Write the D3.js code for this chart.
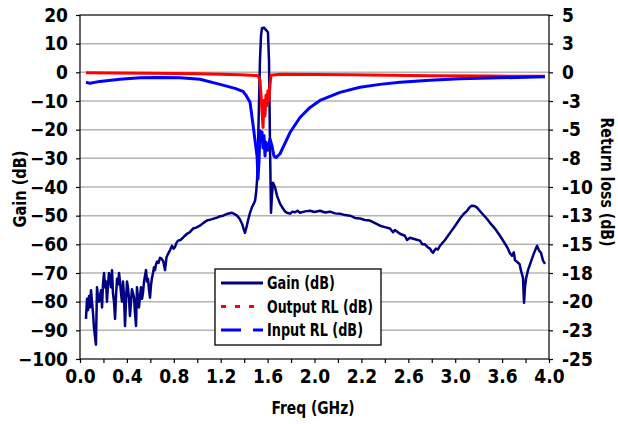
<!DOCTYPE html>
<html>
<head>
<meta charset="utf-8">
<script src="https://cdn.jsdelivr.net/npm/d3@7"></script>
<style>
  html, body { margin: 0; padding: 0; background: #fff; }
  svg text { font-family: "Liberation Sans Narrow", "DejaVu Sans Condensed", "Arial Narrow", sans-serif; font-weight: bold; fill: #000; }
</style>
</head>
<body>
<svg id="chart" width="618" height="424"></svg>
<script>
// ---------- DATA ----------
const gainLeftTicks = [20, 10, 0, -10, -20, -30, -40, -50, -60, -70, -80, -90, -100];
const rlRightTicks = [5, 2.5, 0, -2.5, -5, -7.5, -10, -12.5, -15, -17.5, -20, -22.5, -25];
const rlRightLabels = ["5", "3", "0", "-3", "-5", "-8", "-10", "-13", "-15", "-18", "-20", "-23", "-25"];
const freqTicks = [0,0.2,0.4,0.6,0.8,1.0,1.2,1.4,1.6,1.8,2.0,2.2,2.4,2.6,2.8,3.0,3.2,3.4,3.6,3.8,4.0];
const freqLabels = ["0.0","0.4","0.8","1.2","1.6","2.0","2.2","2.6","3.0","3.6","4.0"];
const seriesNames = ["Gain (dB)", "Output RL (dB)", "Input RL (dB)"];

// Gain (dB), left axis: [freq GHz, dB]
const gainData = [
[0.051,-86],[0.060,-79],[0.068,-83],[0.077,-78],[0.085,-82],[0.094,-76],[0.102,-80],[0.111,-84],[0.119,-89],[0.136,-95],
[0.145,-75],[0.153,-78],[0.162,-80],[0.170,-78],[0.179,-76],[0.188,-82],[0.196,-74],[0.205,-70],[0.213,-75],[0.222,-73],
[0.230,-80],[0.239,-74],[0.247,-70],[0.256,-72],[0.264,-75],[0.273,-69],[0.281,-77],[0.290,-80],[0.299,-86],[0.307,-78],
[0.316,-72],[0.324,-74],[0.333,-70],[0.341,-73],[0.350,-77],[0.358,-80],[0.367,-73],[0.375,-78],[0.384,-88.5],[0.392,-80],
[0.401,-73],[0.409,-75],[0.418,-79],[0.426,-85],[0.435,-80],[0.443,-75.7],[0.452,-77],[0.461,-78.6],[0.469,-84],[0.478,-88.5],
[0.486,-75],[0.495,-79],[0.503,-82],[0.512,-78],[0.520,-75],[0.529,-79],[0.537,-77],[0.546,-73],[0.554,-71],[0.563,-69],
[0.571,-73],[0.580,-72],[0.589,-76],[0.597,-78.6],[0.606,-74],[0.614,-71.7],[0.623,-70],[0.631,-68],[0.640,-69],[0.648,-67],
[0.657,-66],[0.670,-66.5],[0.682,-64.7],[0.695,-65],[0.708,-65.7],[0.716,-67],[0.725,-69],[0.738,-64.5],[0.751,-63.3],[0.768,-62],
[0.785,-60.5],[0.798,-61.5],[0.810,-61],[0.823,-59.5],[0.836,-58.7],[0.857,-58.5],[0.878,-57.7],[0.895,-57],[0.913,-56.3],[0.935,-55.8],
[0.964,-54.5],[0.990,-54.2],[1.023,-53.5],[1.050,-52.6],[1.083,-51.7],[1.120,-51.3],[1.168,-50.7],[1.195,-50.2],[1.220,-50],[1.260,-49.3],
[1.296,-49],[1.320,-49.5],[1.339,-50],[1.360,-51],[1.382,-52.8],[1.398,-55],[1.407,-56],[1.420,-54],[1.433,-51.7],[1.450,-49],
[1.467,-47],[1.480,-46],[1.493,-44.8],[1.502,-42],[1.510,-37.8],[1.518,-27],[1.527,-9.8],[1.535,4.2],[1.544,12.9],[1.552,15.4],
[1.569,15.6],[1.586,14.8],[1.603,14],[1.612,4.2],[1.620,-23.8],[1.629,-49],[1.637,-43],[1.646,-38.5],[1.663,-40],[1.680,-43],
[1.706,-45.8],[1.731,-47.5],[1.748,-48.5],[1.765,-49],[1.791,-49.3],[1.812,-48.6],[1.834,-48.8],[1.855,-48.3],[1.876,-49],[1.920,-48.5],
[1.962,-48.3],[2.000,-48.7],[2.047,-48.3],[2.090,-48.9],[2.132,-48.6],[2.175,-49.2],[2.217,-49.3],[2.260,-49.8],[2.303,-50],[2.345,-50.8],
[2.388,-51],[2.430,-51.5],[2.473,-51.7],[2.516,-52.6],[2.559,-53.5],[2.600,-54],[2.644,-54.5],[2.670,-55.8],[2.686,-55],[2.729,-56.3],
[2.770,-57],[2.790,-58.5],[2.814,-57.7],[2.857,-58.2],[2.900,-58.7],[2.920,-60],[2.942,-60],[2.965,-61],[2.985,-61.5],[3.000,-62.5],
[3.011,-63],[3.025,-62],[3.036,-61.5],[3.053,-61.8],[3.070,-60.5],[3.113,-58.5],[3.156,-56],[3.200,-53.5],[3.241,-51],[3.270,-49.5],
[3.301,-48.3],[3.325,-47],[3.343,-46.5],[3.365,-46.6],[3.386,-47.2],[3.420,-48.8],[3.454,-50.3],[3.497,-52.5],[3.539,-54.5],[3.582,-57],
[3.625,-59.8],[3.650,-61.5],[3.665,-63],[3.684,-64],[3.700,-62.8],[3.710,-65.5],[3.736,-66.4],[3.750,-67],[3.761,-69.2],[3.770,-70.5],
[3.778,-71.7],[3.787,-80.4],[3.795,-75],[3.804,-72],[3.821,-69],[3.838,-67],[3.855,-65],[3.868,-63.5],[3.881,-62.2],[3.898,-60.5],
[3.915,-62.2],[3.932,-63],[3.949,-65.7],[3.966,-66.8]
];

// Output RL (dB), right axis
const outputRL = [
[0.051,-0.04],[0.300,-0.06],[0.600,-0.08],[1.023,-0.13],[1.364,-0.22],[1.500,-0.28],[1.518,-0.3],[1.535,-0.7],[1.544,-2.0],[1.552,-3.3],
[1.561,-4.8],[1.569,-2.45],[1.578,-3.8],[1.586,-2.0],[1.595,-2.9],[1.603,-1.6],[1.612,-2.45],[1.620,-1.1],[1.629,-0.26],[1.706,-0.17],
[2.300,-0.22],[2.985,-0.3],[3.500,-0.33],[3.966,-0.35]
];

// Input RL (dB), right axis
const inputRL = [
[0.051,-0.87],[0.085,-0.96],[0.170,-0.79],[0.340,-0.61],[0.512,-0.48],[0.682,-0.44],[0.853,-0.48],[1.023,-0.61],[1.194,-1.05],[1.322,-1.4],
[1.390,-1.66],[1.416,-2.0],[1.450,-2.6],[1.476,-4.6],[1.510,-7.3],[1.518,-9.3],[1.527,-7.7],[1.535,-5.1],[1.544,-5.95],[1.552,-5.2],
[1.561,-6.6],[1.569,-5.5],[1.578,-7.3],[1.586,-6.1],[1.603,-6.8],[1.620,-5.8],[1.637,-6.4],[1.654,-7.3],[1.671,-7.44],[1.706,-7.1],
[1.748,-6.2],[1.791,-5.25],[1.876,-3.94],[1.962,-3.06],[2.047,-2.45],[2.217,-1.75],[2.388,-1.3],[2.559,-1.05],[2.729,-0.87],[2.985,-0.7],
[3.241,-0.57],[3.582,-0.48],[3.966,-0.39]
];

// ---------- CHART ----------
const svg = d3.select("#chart");
const L = 80, R = 549, T = 15, B = 359;

const x = d3.scaleLinear().domain([0, 4]).range([L, R]);
const yL = d3.scaleLinear().domain([-100, 20]).range([B, T]);
const yR = d3.scaleLinear().domain([-25, 5]).range([B, T]);

// gridlines
svg.append("g").selectAll("line").data(gainLeftTicks.filter(d => d !== 20 && d !== -100)).join("line")
  .attr("x1", L).attr("x2", R).attr("y1", d => yL(d)).attr("y2", d => yL(d))
  .attr("stroke", "#b4b4b4").attr("stroke-width", 1.5);

// frame
svg.append("rect").attr("x", L).attr("y", T).attr("width", R - L).attr("height", B - T)
  .attr("fill", "none").attr("stroke", "#000").attr("stroke-width", 1.2);

// axes
const axL = svg.append("g").attr("transform", `translate(${L},0)`)
  .call(d3.axisLeft(yL).tickValues(gainLeftTicks).tickSize(4).tickPadding(8).tickFormat(d3.format("d")));
const axR = svg.append("g").attr("transform", `translate(${R},0)`)
  .call(d3.axisRight(yR).tickValues(rlRightTicks).tickSize(4).tickPadding(9).tickFormat((d, i) => rlRightLabels[i]));
const axB = svg.append("g").attr("transform", `translate(0,${B})`)
  .call(d3.axisBottom(x).tickValues(freqTicks).tickSize(4).tickPadding(7)
    .tickFormat((d, i) => (i % 2 === 0 ? freqLabels[i / 2] : "")));
[axL, axR, axB].forEach(a => {
  a.select(".domain").remove();
  a.selectAll(".tick line").attr("stroke", "#000").attr("stroke-width", 1.2);
  a.selectAll("text").style("font-size", "19px").attr("fill", "#000");
});

// lines
const lineGain = d3.line().x(d => x(d[0])).y(d => yL(d[1]));
const lineRL = d3.line().x(d => x(d[0])).y(d => yR(d[1]));

svg.append("path").datum(gainData).attr("d", lineGain)
  .attr("fill", "none").attr("stroke", "#000080").attr("stroke-width", 2.5).attr("stroke-linejoin", "round");
svg.append("path").datum(outputRL).attr("d", lineRL)
  .attr("fill", "none").attr("stroke", "#ff0000").attr("stroke-width", 3).attr("stroke-linejoin", "round");
svg.append("path").datum(inputRL).attr("d", lineRL)
  .attr("fill", "none").attr("stroke", "#0000ff").attr("stroke-width", 3).attr("stroke-linejoin", "round");

// axis titles (condensed to the reference's narrow face)
function squeeze(sel, w) {
  sel.attr("textLength", w).attr("lengthAdjust", "spacingAndGlyphs");
}
squeeze(svg.append("text").attr("transform", "translate(26,189) rotate(-90)").attr("text-anchor", "middle")
  .style("font-size", "18px").text("Gain (dB)"), 77);
squeeze(svg.append("text").attr("transform", "translate(601,182) rotate(90)").attr("text-anchor", "middle")
  .style("font-size", "18px").text("Return loss (dB)"), 129);
squeeze(svg.append("text").attr("x", 313).attr("y", 414).attr("text-anchor", "middle")
  .style("font-size", "18px").text("Freq (GHz)"), 83);

// legend
const lg = svg.append("g");
lg.append("rect").attr("x", 215).attr("y", 269).attr("width", 166).attr("height", 76)
  .attr("fill", "#fff").attr("stroke", "#000").attr("stroke-width", 1.3);
const legendColors = ["#000080", "#ff0000", "#0000ff"];
const legendDash = [null, "5,9", "20,12"];
const legendWidths = [68, 106, 96];
seriesNames.forEach((name, i) => {
  const cy = 283 + i * 23.5;
  lg.append("line").attr("x1", 221).attr("x2", 263).attr("y1", cy).attr("y2", cy)
    .attr("stroke", legendColors[i]).attr("stroke-width", 3)
    .attr("stroke-dasharray", legendDash[i]);
  squeeze(lg.append("text").attr("x", 267).attr("y", cy).attr("dy", "0.36em")
    .style("font-size", "17px").text(name), legendWidths[i]);
});
</script>
</body>
</html>
